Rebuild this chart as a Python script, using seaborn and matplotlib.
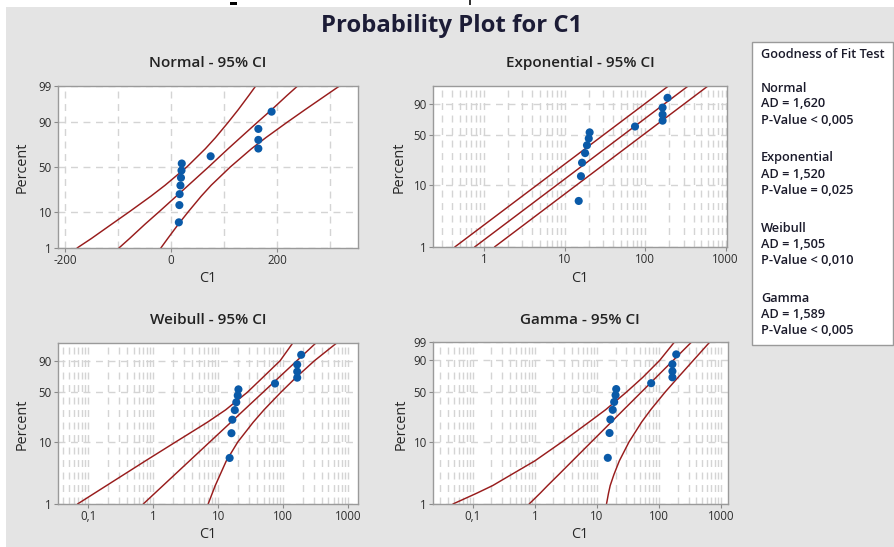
import numpy as np
import matplotlib
matplotlib.use("Agg")
import matplotlib.pyplot as plt
import seaborn as sns
from matplotlib.patches import Rectangle
from matplotlib.ticker import FixedLocator, FixedFormatter, NullLocator, NullFormatter

# ---------------- data ----------------
c1_values = [15, 16, 16.5, 18, 19, 20, 20.5, 75, 165, 165, 165, 190]
percent_ranks = [5.6, 13.7, 21.8, 29.8, 37.9, 46.0, 54.0, 62.1, 70.2, 78.2, 86.3, 94.4]

normal_levels = [1, 2, 5, 10, 20, 30, 50, 70, 80, 90, 95, 98, 99]
normal_fit = [-98, -78, -49, -22, 10, 33, 71, 108, 131, 163, 190, 219, 239]
normal_lower = [-177, -150, -112, -78, -38, -11, 30, 65, 84, 108, 127, 147, 160]
normal_upper = [-19, -6, 14, 33, 57, 76, 112, 152, 179, 219, 253, 292, 318]

exp_levels = [1, 99]
exp_fit = [0.765, 350]
exp_lower = [0.434, 199]
exp_upper = [1.35, 616]

wb_levels = [1, 2, 5, 10, 20, 30, 50, 70, 90, 99]
wb_fit = [0.70, 1.41, 3.59, 7.39, 15.7, 25.1, 48.9, 85.0, 163, 327]
wb_lower = [0.068, 0.19, 0.75, 2.2, 6.8, 13, 28, 48, 90, 143]
wb_upper = [7.0, 9.0, 13.3, 20, 34.6, 50.7, 92, 156, 304, 686]

gm_levels = [1, 1.5, 2, 3, 5, 10, 20, 30, 50, 70, 90, 99]
gm_fit = [0.81, 1.22, 1.61, 2.42, 4.03, 8.17, 17.1, 27.1, 52.2, 89.8, 170, 336]
gm_lower = [0.048, 0.116, 0.21, 0.417, 1.0, 2.75, 7.5, 13.9, 30, 54.7, 103, 178]
gm_upper = [14.3, 15.4, 16.4, 18.8, 23.0, 33.0, 52.7, 74.0, 126, 203, 359, 661]

panel_titles = ["Normal - 95% CI", "Exponential - 95% CI", "Weibull - 95% CI", "Gamma - 95% CI"]
gof_lines = ["Goodness of Fit Test", "",
             "Normal", "AD = 1,620", "P-Value < 0,005", "",
             "Exponential", "AD = 1,520", "P-Value = 0,025", "",
             "Weibull", "AD = 1,505", "P-Value < 0,010", "",
             "Gamma", "AD = 1,589", "P-Value < 0,005"]

# ---------------- probability scales ----------------
def _erf(x):
    x = np.asarray(x, float)
    s = np.sign(x)
    a = np.abs(x)
    t = 1.0 / (1.0 + 0.3275911 * a)
    y = 1 - (((((1.061405429 * t - 1.453152027) * t) + 1.421413741) * t
              - 0.284496736) * t + 0.254829592) * t * np.exp(-a * a)
    return s * y

_A = [-3.969683028665376e+01, 2.209460984245205e+02, -2.759285104469687e+02,
      1.383577518672690e+02, -3.066479806614716e+01, 2.506628277459239e+00]
_B = [-5.447609879822406e+01, 1.615858368580409e+02, -1.556989798598866e+02,
      6.680131188771972e+01, -1.328068155288572e+01]
_C = [-7.784894002430293e-03, -3.223964580411365e-01, -2.400758277161838e+00,
      -2.549732539343734e+00, 4.374664141464968e+00, 2.938163982698783e+00]
_D = [7.784695709041462e-03, 3.224671290700398e-01, 2.445134137142996e+00,
      3.754408661907416e+00]

def _ndtri(p):
    p = np.clip(np.asarray(p, float), 1e-12, 1 - 1e-12)
    plow = 0.02425
    q = np.sqrt(-2 * np.log(np.minimum(p, 1 - p)))
    tail = (((((_C[0]*q+_C[1])*q+_C[2])*q+_C[3])*q+_C[4])*q+_C[5]) / \
           ((((_D[0]*q+_D[1])*q+_D[2])*q+_D[3])*q+1)
    qc = p - 0.5
    r = qc * qc
    cen = (((((_A[0]*r+_A[1])*r+_A[2])*r+_A[3])*r+_A[4])*r+_A[5])*qc / \
          (((((_B[0]*r+_B[1])*r+_B[2])*r+_B[3])*r+_B[4])*r+1)
    return np.where(p < plow, tail, np.where(p > 1 - plow, -tail, cen))

def norm_fwd(p):
    return _ndtri(np.asarray(p, float) / 100.0)

def norm_inv(z):
    return 50.0 * (1 + _erf(np.asarray(z, float) / np.sqrt(2)))

def wb_fwd(p):
    pp = np.clip(np.asarray(p, float) / 100.0, 1e-12, 1 - 1e-12)
    return np.log(-np.log(1 - pp))

def wb_inv(w):
    return 100.0 * (1 - np.exp(-np.exp(np.asarray(w, float))))

# ---------------- figure ----------------
sns.set_theme(style="white")
plt.rcParams["font.family"] = ["Open Sans", "DejaVu Sans"]

W, H = 895, 547
fig = plt.figure(figsize=(W / 100, H / 100), dpi=100)
fig.patch.set_facecolor("white")
fig.patches.append(Rectangle((6 / W, 0), 1, (H - 7) / H, transform=fig.transFigure,
                             facecolor="#e4e4e4", edgecolor="none", zorder=-10))
fig.patches.append(Rectangle((230 / W, 1 - 5 / H), 7 / W, 3 / H, transform=fig.transFigure,
                             facecolor="black", edgecolor="none", zorder=-5))
fig.patches.append(Rectangle((469 / W, 1 - 5 / H), 2 / W, 5 / H, transform=fig.transFigure,
                             facecolor="#333333", edgecolor="none", zorder=-5))

def px_axes(x0, y0, x1, y1):
    a = fig.add_axes([x0 / W, 1 - y1 / H, (x1 - x0) / W, (y1 - y0) / H])
    a.set_zorder(2)
    return a

axes = [px_axes(58, 86, 358, 248), px_axes(433, 86, 727, 247),
        px_axes(58, 343, 358, 504), px_axes(433, 342, 728, 504)]

line_color = "#981c1c"
dot_color = "#0a5aa8"
grid_color = "#d4d4d4"

curves = [
    (normal_levels, [normal_lower, normal_fit, normal_upper]),
    (exp_levels, [exp_lower, exp_fit, exp_upper]),
    (wb_levels, [wb_lower, wb_fit, wb_upper]),
    (gm_levels, [gm_lower, gm_fit, gm_upper]),
]

for i, ax in enumerate(axes):
    ax.set_facecolor("white")
    levels, sets = curves[i]
    for xs in sets:
        sns.lineplot(x=xs, y=levels, sort=False, estimator=None, color=line_color,
                     linewidth=1.05, ax=ax, zorder=2)
    sns.scatterplot(x=c1_values, y=percent_ranks, color=dot_color, s=34,
                    edgecolor="none", linewidth=0, ax=ax, zorder=3)

    if i == 0:
        ax.set_yscale("function", functions=(norm_fwd, norm_inv))
        ax.set_xlim(-213, 353)
        ax.xaxis.set_major_locator(FixedLocator([-200, 0, 200]))
        ax.xaxis.set_major_formatter(FixedFormatter(["-200", "0", "200"]))
        ax.xaxis.set_minor_locator(FixedLocator([-100, 100, 300]))
        yt = [1, 10, 50, 90, 99]
        ax.set_ylim(1, 99)
    else:
        ax.set_xscale("log")
        ax.set_yscale("function", functions=(wb_fwd, wb_inv))
        if i == 1:
            ax.set_xlim(0.233, 1040)
            dec = [1, 10, 100, 1000]
            declab = ["1", "10", "100", "1000"]
            mins = [m * 10.0 ** e for e in range(-1, 3) for m in range(2, 10)]
            yt = [1, 10, 50, 90]
            ax.set_ylim(1, 98.9)
        else:
            if i == 2:
                ax.set_xlim(0.034, 1426)
                ax.set_ylim(1, 98.9)
                yt = [1, 10, 50, 90]
            else:
                ax.set_xlim(0.0229, 1297)
                ax.set_ylim(1, 99)
                yt = [1, 10, 50, 90, 99]
            dec = [0.1, 1, 10, 100, 1000]
            declab = ["0,1", "1", "10", "100", "1000"]
            mins = [m * 10.0 ** e for e in range(-2, 4) for m in range(2, 10)]
        ax.xaxis.set_major_locator(FixedLocator(dec))
        ax.xaxis.set_major_formatter(FixedFormatter(declab))
        ax.xaxis.set_minor_locator(FixedLocator(mins))
        ax.xaxis.set_minor_formatter(NullFormatter())

    ax.yaxis.set_major_locator(FixedLocator(yt))
    ax.yaxis.set_major_formatter(FixedFormatter([str(v) for v in yt]))
    ax.yaxis.set_minor_locator(NullLocator())

    ax.grid(True, which="major", axis="both", color=grid_color, linestyle=(0, (5, 4)),
            linewidth=1.0, zorder=0)
    ax.grid(True, which="minor", axis="x", color=grid_color, linestyle=(0, (5, 4)),
            linewidth=1.0, zorder=0)
    ax.set_axisbelow(True)
    ax.tick_params(which="major", direction="out", length=3, width=0.8, color="#8a8a8a",
                   labelsize=8.3, labelcolor="#2e2e2e", pad=1.5, bottom=True, left=True)
    ax.tick_params(which="minor", direction="out", length=0)
    for sp in ax.spines.values():
        sp.set_color("#9a9a9a")
        sp.set_linewidth(1.0)
    ax.set_xlabel("")
    ax.set_ylabel("")

# panel titles and axis labels
title_kw = dict(ha="center", va="center", fontsize=11, fontweight="semibold", color="#222222")
fig.text(208 / W, 1 - 63 / H, panel_titles[0], **title_kw)
fig.text(580 / W, 1 - 63 / H, panel_titles[1], **title_kw)
fig.text(208 / W, 1 - 320 / H, panel_titles[2], **title_kw)
fig.text(580 / W, 1 - 320 / H, panel_titles[3], **title_kw)

lab_kw = dict(ha="center", va="center", fontsize=10.4, color="#262626")
for xp, yp in [(22, 167), (399, 167), (22, 424), (401, 424)]:
    fig.text(xp / W, 1 - yp / H, "Percent", rotation=90, **lab_kw)
for xp, yp in [(208, 279), (580, 279), (208, 535), (580, 535)]:
    fig.text(xp / W, 1 - yp / H, "C1", **lab_kw)

fig.text(452 / W, 1 - 26 / H, "Probability Plot for C1", ha="center", va="center",
         fontsize=17.2, fontweight="bold", color="#1c1c36")

# goodness of fit box
fig.patches.append(Rectangle((752 / W, 1 - 345 / H), 141 / W, 303 / H, transform=fig.transFigure,
                             facecolor="white", edgecolor="#9a9a9a", linewidth=1.0, zorder=1))
gof_y = [54, 71, 88, 104, 121, 140, 158, 174, 191, 210, 228, 244, 261, 280, 298, 314, 331]
for txt, yp in zip(gof_lines, gof_y):
    if txt:
        fig.text(761 / W, 1 - yp / H, txt, ha="left", va="center", fontsize=9.2,
                 fontweight="semibold", color="#1a1a2a", zorder=2)

fig.savefig("out.png", dpi=100)
